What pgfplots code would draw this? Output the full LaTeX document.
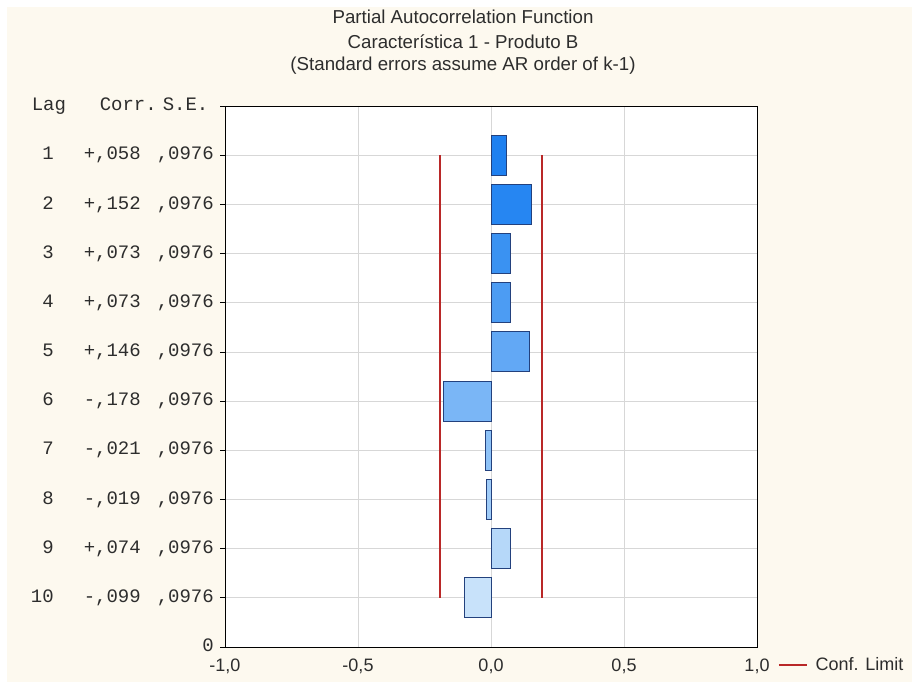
\documentclass[border=0pt]{standalone}
\usepackage{pgfplots}
\pgfplotsset{compat=1.18}
\usepackage{fontspec}
\setmainfont{Liberation Sans}
\setmonofont{Liberation Mono}

\definecolor{cream}{RGB}{253,249,239}
\definecolor{txt}{RGB}{45,45,45}
\definecolor{gridc}{RGB}{215,215,215}
\definecolor{edge}{RGB}{35,65,125}
\definecolor{conf}{RGB}{185,40,40}
\definecolor{b1}{RGB}{30,128,240}
\definecolor{b2}{RGB}{38,134,242}
\definecolor{b3}{RGB}{58,146,242}
\definecolor{b4}{RGB}{76,156,243}
\definecolor{b5}{RGB}{98,168,245}
\definecolor{b6}{RGB}{122,182,246}
\definecolor{b7}{RGB}{142,194,247}
\definecolor{b8}{RGB}{160,204,248}
\definecolor{b9}{RGB}{182,216,249}
\definecolor{b10}{RGB}{200,226,250}

% one row of the Lag / Corr. / S.E. table
\newcommand\row[3]{\makebox[186pt][l]{%
  \rlap{\hspace*{20pt}\llap{#1}}%
  \rlap{\hspace*{50pt}#2}%
  \rlap{\hspace*{123pt}#3}}}
\newcommand\hdr{\makebox[186pt][l]{%
  \rlap{\hspace*{-2pt}Lag}%
  \rlap{\hspace*{66pt}Corr.}%
  \rlap{\hspace*{129pt}S.E.}}}

\begin{document}
\begin{tikzpicture}
\fill[white] (0pt,0pt) rectangle (912pt,682pt);
\fill[cream] (7pt,0pt) rectangle (912pt,675pt);
\begin{scope}[font=\fontsize{18.7}{22}\selectfont, text=txt]
\node at (463pt,665pt) {Partial Autocorrelation Function};
\node at (463pt,640pt) {Característica 1 - Produto B};
\node at (463pt,616pt) {(Standard errors assume AR order of k-1)};
\end{scope}
\begin{axis}[
  at={(225pt,35pt)}, anchor=south west,
  scale only axis, width=532pt, height=541pt,
  xmin=-1, xmax=1, ymin=0, ymax=11, y dir=reverse,
  axis background/.style={fill=white},
  axis line style={black, line width=0.9pt},
  xtick={-1,-0.5,0,0.5,1},
  xticklabels={{-1,0},{-0,5},{0,0},{0,5},{1,0}},
  xticklabel style={font=\fontsize{18}{20}\selectfont, text=txt, yshift=-3pt},
  ytick={0,1,...,11},
  yticklabels={\hdr,
    {\row{1}{+,058}{,0976}},
    {\row{2}{+,152}{,0976}},
    {\row{3}{+,073}{,0976}},
    {\row{4}{+,073}{,0976}},
    {\row{5}{+,146}{,0976}},
    {\row{6}{-,178}{,0976}},
    {\row{7}{-,021}{,0976}},
    {\row{8}{-,019}{,0976}},
    {\row{9}{+,074}{,0976}},
    {\row{10}{-,099}{,0976}},
    {\makebox[186pt][r]{\raisebox{3pt}{0}\hspace*{6pt}}}},
  yticklabel style={font=\ttfamily\fontsize{19}{20}\selectfont, text=txt, anchor=east, inner sep=0pt},
  tick align=outside, major tick length=5pt,
  xtick style={draw=none},
  ytick pos=left,
  ytick style={black, line width=0.8pt},
  xmajorgrids, ymajorgrids,
  grid style={gridc, line width=0.8pt},
  legend style={at={(axis description cs:1,0)}, anchor=west, xshift=21pt, yshift=-18pt,
    draw=none, fill=none, font=\fontsize{18}{20}\selectfont, inner sep=0pt},
  legend image code/.code={\draw[#1] (0pt,0pt) -- (28pt,0pt);},
  clip=false,
]
% partial autocorrelations by lag
\addplot[xbar, bar width=40pt, bar shift=0pt, fill=b1, draw=edge, line width=0.9pt, forget plot] coordinates {(0.058,1)};
\addplot[xbar, bar width=40pt, bar shift=0pt, fill=b2, draw=edge, line width=0.9pt, forget plot] coordinates {(0.152,2)};
\addplot[xbar, bar width=40pt, bar shift=0pt, fill=b3, draw=edge, line width=0.9pt, forget plot] coordinates {(0.073,3)};
\addplot[xbar, bar width=40pt, bar shift=0pt, fill=b4, draw=edge, line width=0.9pt, forget plot] coordinates {(0.073,4)};
\addplot[xbar, bar width=40pt, bar shift=0pt, fill=b5, draw=edge, line width=0.9pt, forget plot] coordinates {(0.146,5)};
\addplot[xbar, bar width=40pt, bar shift=0pt, fill=b6, draw=edge, line width=0.9pt, forget plot] coordinates {(-0.178,6)};
\addplot[xbar, bar width=40pt, bar shift=0pt, fill=b7, draw=edge, line width=0.9pt, forget plot] coordinates {(-0.021,7)};
\addplot[xbar, bar width=40pt, bar shift=0pt, fill=b8, draw=edge, line width=0.9pt, forget plot] coordinates {(-0.019,8)};
\addplot[xbar, bar width=40pt, bar shift=0pt, fill=b9, draw=edge, line width=0.9pt, forget plot] coordinates {(0.074,9)};
\addplot[xbar, bar width=40pt, bar shift=0pt, fill=b10, draw=edge, line width=0.9pt, forget plot] coordinates {(-0.099,10)};
% confidence limits: 1.96 * 0.0976
\addplot[color=conf, line width=1.4pt, mark=none, forget plot] coordinates {(-0.191,1) (-0.191,10)};
\addplot[color=conf, line width=1.4pt, mark=none, forget plot] coordinates {(0.191,1) (0.191,10)};
\addlegendimage{color=conf, line width=1.4pt}
\addlegendentry{\hspace*{6pt}\textcolor{txt}{Conf. Limit}}
\end{axis}
\end{tikzpicture}
\end{document}
